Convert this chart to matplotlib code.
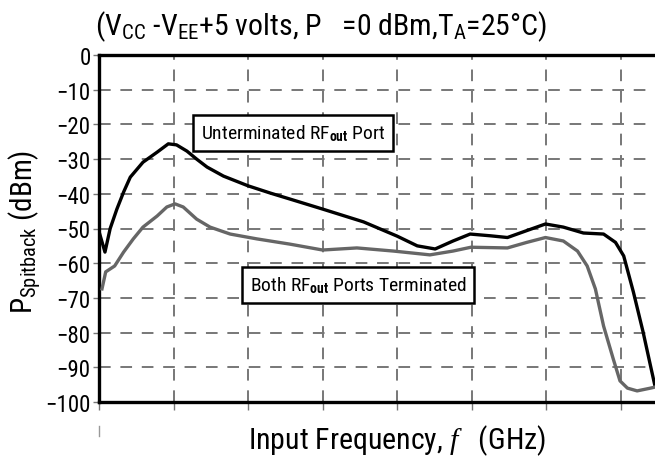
import matplotlib
matplotlib.use("Agg")
import matplotlib.pyplot as plt
import matplotlib.font_manager as fm
from matplotlib.lines import Line2D

# pick a condensed sans-serif if one is installed
_pref = ['Liberation Sans Narrow', 'Roboto Condensed', 'Open Sans Condensed',
         'Noto Sans Condensed', 'DejaVu Sans Condensed', 'DejaVu Sans']
_cands = {}
for f in fm.fontManager.ttflist:
    if f.style != 'normal' or f.weight not in (400, 'normal', 'regular', 'book'):
        continue
    st = str(f.stretch)
    if 'condensed' in st or 'Narrow' in f.name or 'Condensed' in f.name:
        _cands.setdefault(f.name, st)
family, stretch = 'Liberation Sans', 'normal'
for p in _pref:
    if p in _cands:
        family, stretch = p, _cands[p]
        break

plt.rcParams['font.family'] = [family, 'DejaVu Sans']
plt.rcParams['font.stretch'] = stretch
plt.rcParams['mathtext.fontset'] = 'custom'
plt.rcParams['mathtext.rm'] = family
plt.rcParams['mathtext.it'] = 'Liberation Serif:italic'
plt.rcParams['mathtext.bf'] = family + ':bold'

# Data (x in grid units, y in dBm)
unterm_x = [0.01, 0.08, 0.15, 0.24, 0.33, 0.42, 0.59, 0.78, 0.93, 1.04, 1.18, 1.31,
            1.45, 1.67, 2.0, 2.3, 2.56, 3.0, 3.55, 4.0, 4.27, 4.51, 4.75, 4.98,
            5.25, 5.48, 5.74, 5.99, 6.23, 6.5, 6.77, 6.93, 7.04, 7.17, 7.3, 7.4, 7.46]
unterm_y = [-51.6, -56.8, -50.0, -44.4, -39.5, -35.2, -30.9, -28.0, -25.6, -25.9, -27.7, -30.0,
            -32.3, -34.9, -37.7, -39.8, -41.5, -44.4, -48.1, -52.2, -55.0, -55.9, -53.6, -51.6,
            -52.1, -52.6, -50.6, -48.7, -49.6, -51.3, -51.6, -54.0, -57.9, -68.3, -79.8, -89.6, -95.4]

term_x = [0.04, 0.09, 0.21, 0.33, 0.46, 0.59, 0.78, 0.91, 1.02, 1.13, 1.31, 1.49, 1.76,
          2.12, 2.56, 3.0, 3.46, 3.95, 4.44, 4.75, 4.99, 5.48, 5.74, 5.99, 6.23, 6.42,
          6.55, 6.66, 6.77, 6.9, 6.99, 7.09, 7.22, 7.4, 7.46]
term_y = [-67.4, -62.5, -60.8, -56.8, -53.0, -49.6, -46.4, -43.8, -42.9, -43.8, -47.3, -49.6, -51.6,
          -53.0, -54.5, -56.2, -55.6, -56.5, -57.6, -56.5, -55.4, -55.6, -54.0, -52.6, -53.6, -56.5,
          -60.8, -67.4, -78.1, -87.6, -93.9, -96.0, -96.8, -96.0, -95.7]

y_ticks = [0, -10, -20, -30, -40, -50, -60, -70, -80, -90, -100]
y_ticklabels = ['0', '\u221210', '\u221220', '\u221230', '\u221240', '\u221250',
                '\u221260', '\u221270', '\u221280', '\u221290', '\u2212100']
x_grid = [1, 2, 3, 4, 5, 6, 7]

fig = plt.figure(figsize=(6.55, 4.6), dpi=100)
ax = fig.add_axes([99/655, 1 - 403/460, 1 - 99/655, (403 - 56)/460])

ax.set_xlim(0, 7.46)
ax.set_ylim(-100, 0)

for xv in x_grid:
    ax.axvline(xv, color='#777777', lw=1.4, dashes=(6, 5), zorder=1)
for yv in y_ticks[1:-1]:
    ax.axhline(yv, color='#777777', lw=1.4, dashes=(6, 5), zorder=1)

ax.plot(unterm_x, unterm_y, color='#000000', lw=2.4, zorder=3, solid_joinstyle='round')
ax.plot(term_x, term_y, color='#666666', lw=2.4, zorder=3, solid_joinstyle='round')

for side in ['left', 'top', 'bottom']:
    ax.spines[side].set_linewidth(2.4)
    ax.spines[side].set_color('black')
ax.spines['right'].set_visible(False)

ax.set_yticks(y_ticks)
ax.set_yticklabels(y_ticklabels)
ax.set_xticks([0] + x_grid)
ax.set_xticklabels([])
ax.tick_params(axis='y', direction='out', length=4, width=1, color='#777777', labelsize=16.5, pad=2)
ax.tick_params(axis='x', direction='out', length=6, width=1, color='#777777')

# stray tick mark below axis
fig.add_artist(Line2D([99/655, 99/655], [1 - 427/460, 1 - 437/460], color='#999999', lw=1))

ax.text(2.6, -22.5, 'Unterminated RF$_{\\mathbf{out}}$ Port', fontsize=14, ha='center', va='center',
        bbox=dict(boxstyle='square,pad=0.4', fc='white', ec='black', lw=1.8), zorder=5)
ax.text(3.48, -66.2, 'Both RF$_{\\mathbf{out}}$ Ports Terminated', fontsize=14, ha='center', va='center',
        bbox=dict(boxstyle='square,pad=0.4', fc='white', ec='black', lw=1.8), zorder=5)

fig.text(95/655, 1 - 27/460, '(V$_{\\mathrm{CC}}$ -V$_{\\mathrm{EE}}$+5 volts, P   =0 dBm,T$_{\\mathrm{A}}$=25\u00b0C)',
         fontsize=21.5, ha='left', va='center')
fig.text(25/655, 1 - 232/460, 'P$_{\\mathrm{Spitback}}$ (dBm)', fontsize=21, rotation=90, ha='center', va='center')
fig.text(397/655, 1 - 441/460, 'Input Frequency, $f$   (GHz)', fontsize=21.5, ha='center', va='center')

fig.savefig('out.png', dpi=100)
